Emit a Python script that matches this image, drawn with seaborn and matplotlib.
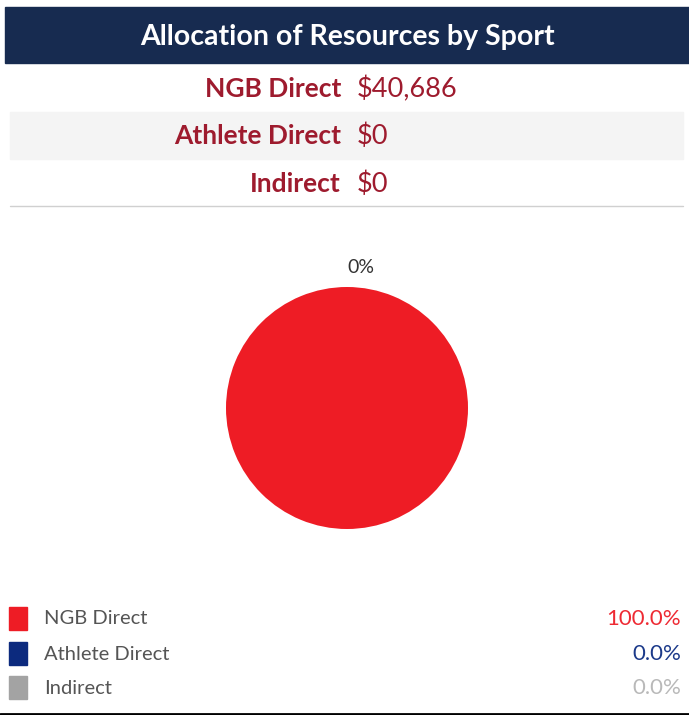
import matplotlib
matplotlib.use("Agg")
import matplotlib.pyplot as plt
from matplotlib.patches import Rectangle
import seaborn as sns

# Données
categories = ["NGB Direct", "Athlete Direct", "Indirect"]
amounts = [40686, 0, 0]
amount_labels = ["$40,686", "$0", "$0"]
share_labels = ["100.0%", "0.0%", "0.0%"]
slice_colors = ["#EE1C25", "#0C2A7E", "#A3A3A3"]
share_colors = ["#EE2A33", "#1C3A8A", "#B9B9B9"]

sns.set_style("white")
plt.rcParams['font.family'] = ['Lato', 'DejaVu Sans']

W, H = 689, 715
fig = plt.figure(figsize=(W / 100, H / 100), dpi=100)

# Calque de fond en coordonnées pixels
bg = fig.add_axes([0, 0, 1, 1])
bg.set_xlim(0, W)
bg.set_ylim(H, 0)
bg.axis("off")

# Bandeau de titre
bg.add_patch(Rectangle((5, 7), W - 5, 56, color="#172B50"))
bg.text(347, 37, "Allocation of Resources by Sport", color="white",
        fontsize=20.5, fontweight="bold", ha="center", va="center")

# Tableau des montants
row_y = [89, 136, 184]
bg.add_patch(Rectangle((10, 112), 673, 47, color="#F4F4F4"))
bg.plot([10, 683], [206, 206], color="#D0D0D0", lw=1)
for cat, lab, y in zip(categories, amount_labels, row_y):
    bg.text(341, y, cat, color="#9E1B2E", fontsize=19, fontweight="bold",
            ha="right", va="center")
    bg.text(357, y, lab, color="#9E1B2E", fontsize=19.5, ha="left", va="center")

# Camembert
r = 121
cx, cy = 347, 408
ax = fig.add_axes([(cx - 1.2 * r) / W, (H - cy - 1.2 * r) / H, 2.4 * r / W, 2.4 * r / H])
wedges, _ = ax.pie(amounts, colors=slice_colors, startangle=90, counterclock=False,
                   wedgeprops=dict(linewidth=0, edgecolor="none"))
ax.set_xlim(-1.2, 1.2)
ax.set_ylim(-1.2, 1.2)
ax.axis("off")
ax.text(0, 1.16, "0%", fontsize=14, color="#333333", ha="left", va="center")

# Légende
leg_y = [619, 654, 688]
for cat, col, share, scol, y in zip(categories, slice_colors, share_labels, share_colors, leg_y):
    bg.add_patch(Rectangle((9, y - 12), 18, 23, color=col))
    bg.text(44, y, cat, color="#555555", fontsize=14.5, ha="left", va="center")
    bg.text(681, y, share, color=scol, fontsize=16, ha="right", va="center")

bg.plot([0, W], [713.5, 713.5], color="black", lw=2)

fig.savefig("out.png", dpi=100)
